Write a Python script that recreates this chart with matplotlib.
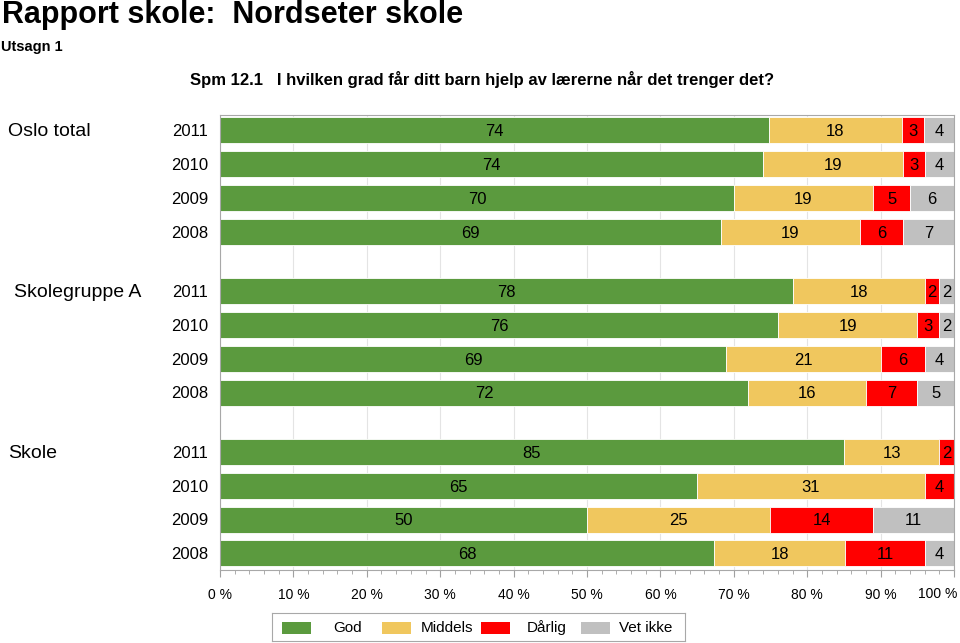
import numpy as np
import matplotlib
matplotlib.use("Agg")
import matplotlib.pyplot as plt
from matplotlib.patches import Rectangle
from matplotlib.ticker import MultipleLocator, FuncFormatter

plt.rcParams["font.family"] = ["Liberation Sans", "DejaVu Sans"]

# ---- data ----
groups = ["Oslo total", "Skolegruppe A", "Skole"]
years = ["2011", "2010", "2009", "2008"]
categories = ["God", "Middels", "Dårlig", "Vet ikke"]

oslo_total = [[74, 18, 3, 4], [74, 19, 3, 4], [70, 19, 5, 6], [69, 19, 6, 7]]
skolegruppe_a = [[78, 18, 2, 2], [76, 19, 3, 2], [69, 21, 6, 4], [72, 16, 7, 5]]
skole = [[85, 13, 2, 0], [65, 31, 4, 0], [50, 25, 14, 11], [68, 18, 11, 4]]

colors = ["#5b9a3e", "#f0c75e", "#ff0000", "#c0c0c0"]

W, H = 960, 643
fig = plt.figure(figsize=(W / 100, H / 100), dpi=100)
ax = fig.add_axes([220 / W, 1 - 570 / H, 734 / W, 455 / H])

group_gap = 1.75
rows = []
for gi, data in enumerate([oslo_total, skolegruppe_a, skole]):
    for yi, vals in enumerate(data):
        rows.append((gi * (3 + group_gap) + yi, gi, yi, vals))

for pos, gi, yi, vals in rows:
    vals = np.asarray(vals, dtype=float)
    pct = vals / vals.sum() * 100
    left = 0.0
    for ci, (v, p) in enumerate(zip(vals, pct)):
        if v <= 0:
            continue
        ax.barh(pos, p, left=left, height=0.77, color=colors[ci],
                edgecolor="white", linewidth=0.6, zorder=2)
        ax.text(left + p / 2, pos + 0.04, f"{int(v)}", ha="center", va="center",
                fontsize=12, color="black", zorder=3)
        left += p

ax.set_xlim(0, 100)
ax.set_ylim(12.99, -0.45)
ax.set_yticks([])
ax.xaxis.set_major_locator(MultipleLocator(10))
ax.xaxis.set_minor_locator(MultipleLocator(2))
# the 100 % label is placed by hand below so it stays inside the figure
ax.xaxis.set_major_formatter(FuncFormatter(lambda x, _: "" if x >= 100 else f"{int(x)} %"))
ax.tick_params(axis="x", which="major", length=5, color="#a0a0a0", pad=8,
               labelsize=10)
ax.tick_params(axis="x", which="minor", length=3, color="#a0a0a0")
ax.grid(axis="x", color="#e4e4e4", linewidth=0.8, zorder=0)
ax.set_axisbelow(True)
for s in ax.spines.values():
    s.set_color("#a8a8a8")
    s.set_linewidth(0.8)
ax.text(100.5, -17 / 455, "100 %", ha="right", va="top", fontsize=10,
        transform=ax.get_xaxis_transform())

# year labels and group labels
group_x = [8, 14, 8]
for pos, gi, yi, vals in rows:
    ax.text(-12 / 734, pos + 0.04, years[yi], ha="right", va="center", fontsize=12,
            transform=ax.get_yaxis_transform())
    if yi == 0:
        ax.annotate(groups[gi], xy=(group_x[gi] / W, pos + 0.04),
                    xycoords=("figure fraction", "data"),
                    ha="left", va="center", fontsize=14)

fig.text(2 / W, 1 - 15 / H, "Rapport skole:  Nordseter skole", fontsize=22,
         fontweight="bold", va="center", ha="left")
fig.text(1 / W, 1 - 47 / H, "Utsagn 1", fontsize=10.5, fontweight="bold",
         va="center", ha="left")
fig.text(190 / W, 1 - 79 / H,
         "Spm 12.1   I hvilken grad får ditt barn hjelp av lærerne når det trenger det?",
         fontsize=12, fontweight="bold", va="center", ha="left")

# legend box drawn as its own axes
lx0, lx1, ly0, ly1 = 272, 685, 613, 641
lax = fig.add_axes([lx0 / W, 1 - ly1 / H, (lx1 - lx0) / W, (ly1 - ly0) / H])
lax.set_xlim(lx0, lx1)
lax.set_ylim(ly1, ly0)
lax.set_xticks([])
lax.set_yticks([])
for s in lax.spines.values():
    s.set_color("#a8a8a8")
    s.set_linewidth(0.8)
slot = 99.5
for i, (c, lab) in enumerate(zip(colors, categories)):
    x0 = 282 + i * slot
    lax.add_patch(Rectangle((x0, 622), 29, 11.5, facecolor=c, edgecolor="none"))
    lax.text(x0 + 65.5, 627.5, lab, ha="center", va="center", fontsize=11)

fig.savefig("out.png", dpi=100)
